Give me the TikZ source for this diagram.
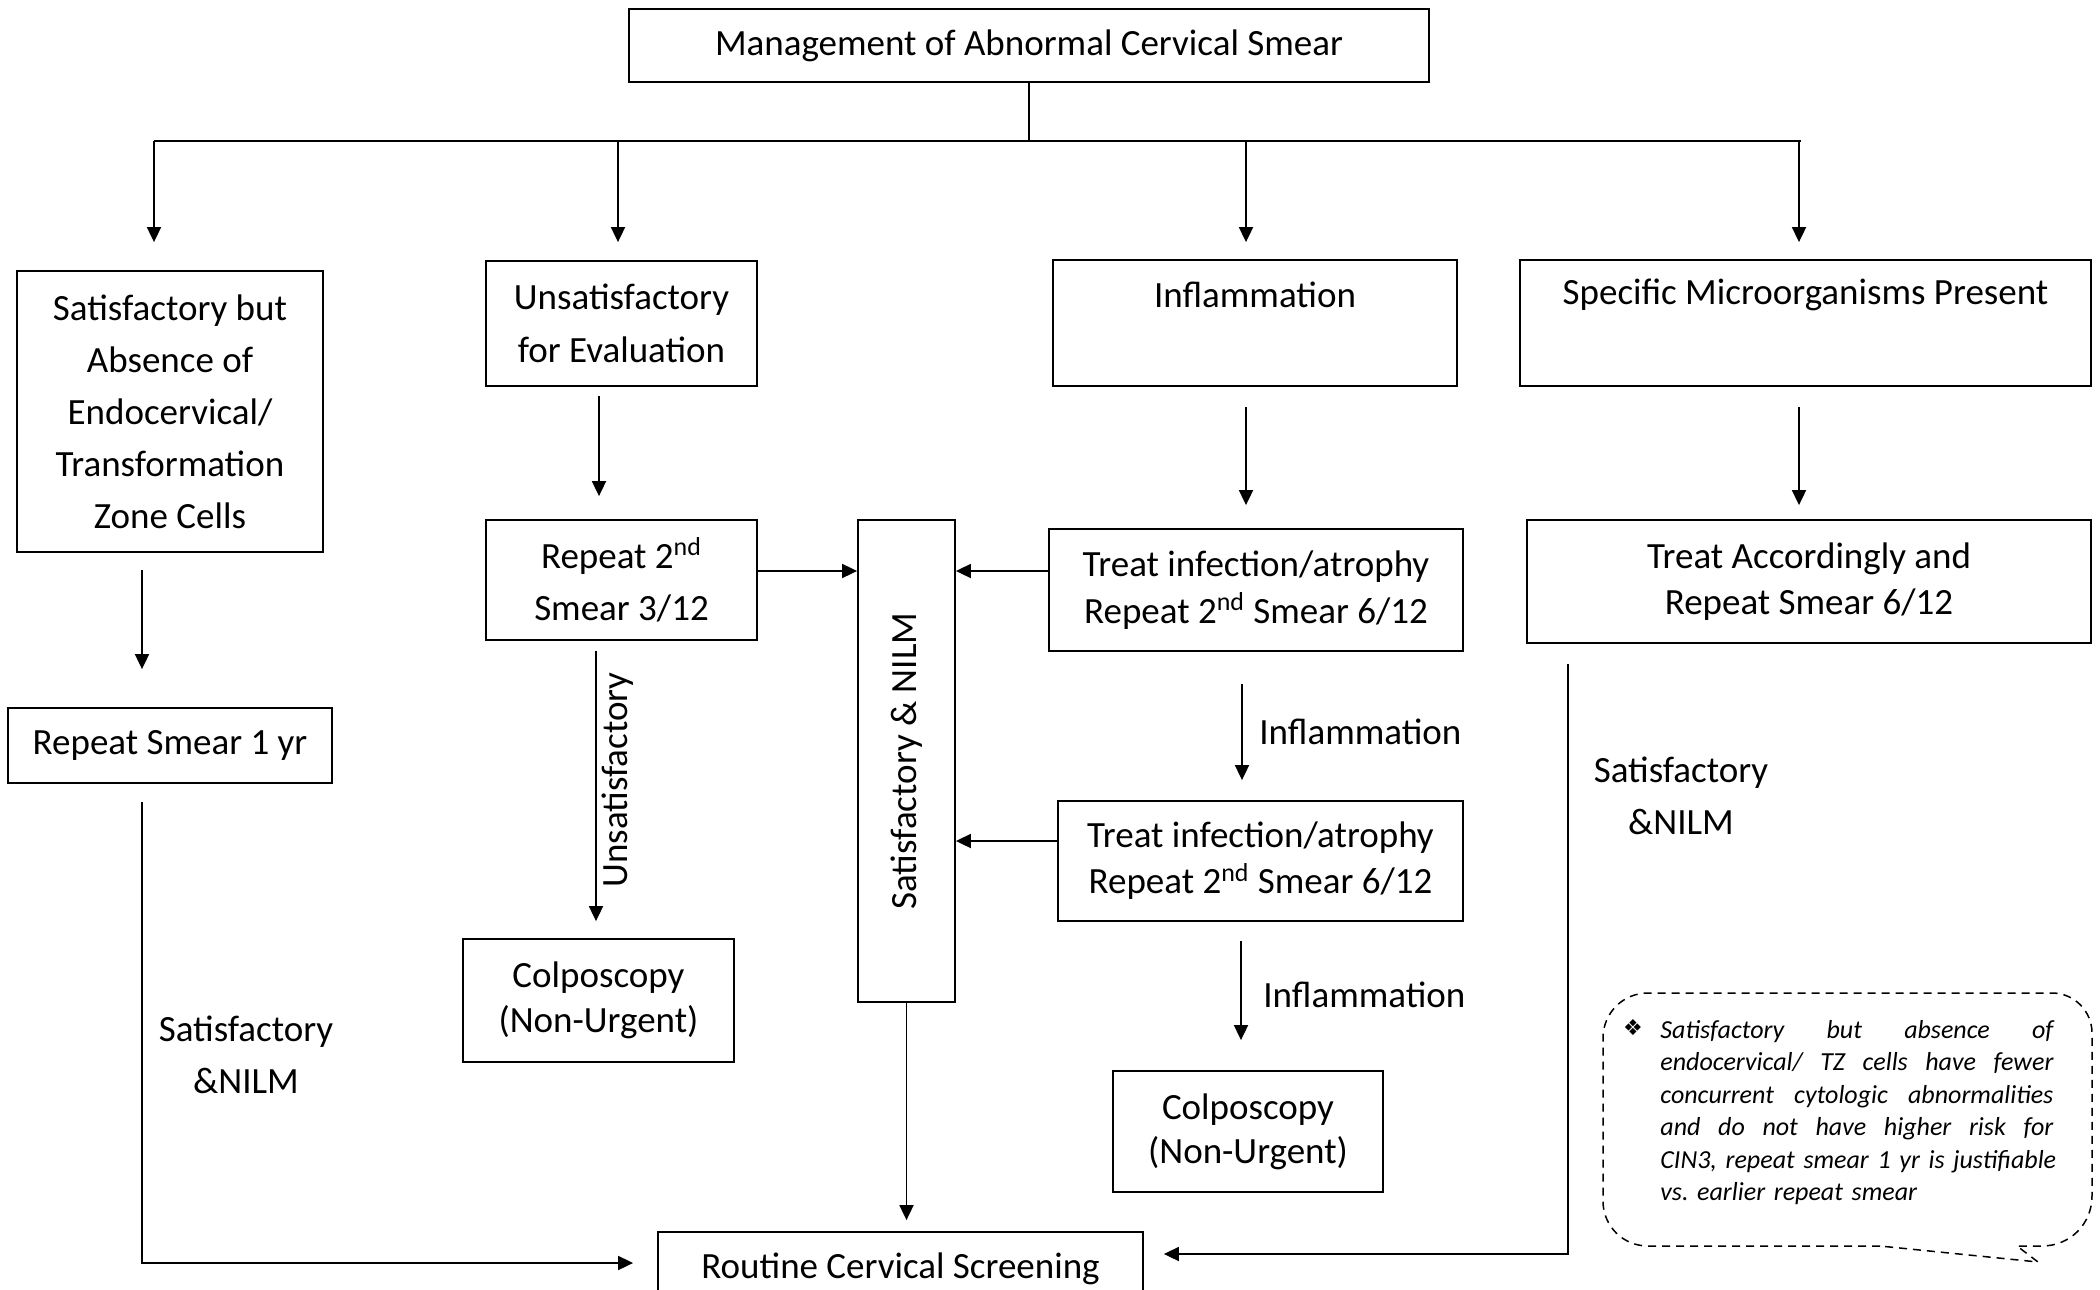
\documentclass[tikz,border=0pt]{standalone}
\usepackage{fontspec}
\setmainfont{Carlito}
\newfontfamily\symfnt{DejaVu Sans}
\usepackage{graphicx}
\usetikzlibrary{arrows.meta}
\tikzset{
  box/.style={draw, line width=0.9pt, inner sep=0pt, align=center},
  ln/.style={line width=0.9pt},
  arr/.style={line width=0.9pt, -{Triangle[length=7.5pt,width=7pt]}},
  lbl/.style={inner sep=0pt, align=center, font=\fontsize{18.5pt}{26pt}\selectfont},
}
\newcommand{\fs}[1]{\fontsize{18.5pt}{#1}\selectfont}
\newcommand{\jl}[1]{\hbox to 196.5pt{#1}}
\newcommand{\gp}{\hfill\ \hfill}
\frenchspacing
\begin{document}
\begin{tikzpicture}[x=0.5pt, y=-0.5pt]
\useasboundingbox (0,0) rectangle (2100,1290);
\fill[white] (0,0) rectangle (2100,1290);
\clip (0,0) rectangle (2100,1290);

% boxes
\node[box, minimum width=400pt, minimum height=36.5pt, font=\fs{26pt}] (T) at (1029,45.5) {Management of Abnormal Cervical Smear};
\node[box, minimum width=153pt, minimum height=140.5pt, font=\fs{26pt}] (A) at (170,411.5) {Satisfactory but\\Absence of\\Endocervical/\\Transformation\\Zone Cells};
\node[box, minimum width=135.5pt, minimum height=62.5pt, font=\fs{26.5pt}] (B) at (621.5,323.5) {Unsatisfactory\\for Evaluation};
\node[box, minimum width=202pt, minimum height=63pt] (C) at (1255,323) {};
\node[lbl] (Ct) at (1255,295) {Inflammation};
\node[box, minimum width=285.5pt, minimum height=63pt] (D) at (1805.5,323) {};
\node[lbl] (Dt) at (1805.5,295) {Specific Microorganisms Present};
\node[box, minimum width=162pt, minimum height=37.5pt, font=\fs{26pt}] (E) at (170,745.5) {Repeat Smear 1 yr};
\node[box, minimum width=135.5pt, minimum height=60pt, font=\fs{26pt}] (F) at (621.5,580) {Repeat 2\textsuperscript{nd}\\Smear 3/12};
\node[box, minimum width=48.5pt, minimum height=241pt, font=\fs{26pt}] (G) at (906.5,761) {\rotatebox{90}{Satisfactory \& NILM}};
\node[box, minimum width=207pt, minimum height=61pt, font=\fs{23.5pt}] (H) at (1256,590) {Treat infection/atrophy\\Repeat 2\textsuperscript{nd} Smear 6/12};
\node[box, minimum width=282pt, minimum height=61.5pt, font=\fs{23pt}] (L) at (1809,581.5) {Treat Accordingly and\\Repeat Smear 6/12};
\node[box, minimum width=135.5pt, minimum height=61.5pt, font=\fs{22.75pt}] (J) at (598.5,1000.5) {Colposcopy\\(Non-Urgent)};
\node[box, minimum width=202.5pt, minimum height=60pt, font=\fs{23pt}] (I) at (1260.5,861) {Treat infection/atrophy\\Repeat 2\textsuperscript{nd} Smear 6/12};
\node[box, minimum width=135pt, minimum height=60.5pt, font=\fs{22pt}] (K) at (1248,1131.5) {Colposcopy\\(Non-Urgent)};
\node[box, minimum width=242.5pt, minimum height=36.5pt, font=\fs{26pt}] (M) at (900.5,1268.5) {Routine Cervical Screening};

% top distribution
\coordinate (d1) at (154,141);
\coordinate (d2) at (618,141);
\coordinate (d3) at (1246,141);
\coordinate (d4) at (1799,141);
\coordinate (barR) at (1801,141);
\draw[ln] (T.south) -- (T.south |- d1);
\draw[ln] (d1) -- (barR);
\draw[arr] (d1) -- ([xshift=-8pt, yshift=14pt]A.north);
\draw[arr] (d2) -- ([xshift=-1.75pt, yshift=9pt]B.north);
\draw[arr] (d3) -- ([xshift=-4.5pt, yshift=8.5pt]C.north);
\draw[arr] (d4) -- ([xshift=-3.25pt, yshift=8.5pt]D.north);

% vertical arrows
\draw[arr] ([xshift=-14pt,yshift=-8.5pt]A.south) -- ([xshift=-14pt,yshift=19pt]E.north);
\draw[arr] ([xshift=-11.25pt,yshift=-4.5pt]B.south) -- ([xshift=-11.25pt,yshift=11.5pt]F.north);
\draw[arr] ([xshift=-4.5pt,yshift=-10pt]C.south) -- ([xshift=-5pt,yshift=11.5pt]H.north);
\draw[arr] ([xshift=-3.25pt,yshift=-10pt]D.south) -- ([xshift=-5pt,yshift=7pt]L.north);
\draw[arr] ([xshift=-12.75pt,yshift=-5pt]F.south) -- ([xshift=-1.25pt,yshift=8.5pt]J.north);
\draw[arr] ([xshift=-7pt,yshift=-16pt]H.south) -- ([xshift=-9.25pt,yshift=10pt]I.north);
\draw[arr] ([xshift=-9.75pt,yshift=-9.5pt]I.south) -- ([xshift=-3.5pt,yshift=15pt]K.north);
\draw[arr] (G.south) -- ([xshift=3pt,yshift=5.5pt]M.north);

% horizontal arrows into G
\draw[arr] ([yshift=4.5pt]F.east) -- ([yshift=95pt]G.west);
\draw[arr] ([yshift=9.5pt]H.west) -- ([yshift=95pt]G.east);
\draw[arr] ([yshift=10pt]I.west) -- ([yshift=-40pt]G.east);

% long paths to routine screening
\draw[arr] ([xshift=-14pt,yshift=-9pt]E.south) |- ([xshift=-12pt,yshift=2.75pt]M.west);
\draw[arr] ([xshift=-120.5pt,yshift=-10pt]L.south) |- ([xshift=10pt,yshift=7.25pt]M.east);

% labels
\node[lbl, anchor=west] (infl1) at (1259,732) {Inflammation};
\node[lbl, anchor=west] (infl2) at (1263,995) {Inflammation};
\node[lbl, rotate=90] (unsat) at (618,780) {Unsatisfactory};
\node[lbl] (satL) at (246,1055) {Satisfactory\\\&NILM};
\node[lbl] (satR) at (1681,796) {Satisfactory\\\&NILM};

% callout
\draw[line width=0.75pt, dash pattern=on 4pt off 3pt]
  (1880,1246) -- (1648,1246) .. controls (1623,1246) and (1603,1226) .. (1603,1201)
  -- (1603,1038) .. controls (1603,1013) and (1623,993) .. (1648,993)
  -- (2052,993) .. controls (2074,993) and (2092,1011) .. (2092,1033)
  -- (2092,1196) .. controls (2092,1224) and (2070,1246) .. (2042,1246)
  -- (2017,1246) -- (2038,1262) -- cycle;
\node[inner sep=0pt, font=\symfnt\fontsize{11pt}{11pt}\selectfont] (bul) at (1633,1028) {❖};
\node[anchor=north west, inner sep=0pt, text width=196.5pt, font=\itshape\fontsize{13pt}{16.25pt}\selectfont] (note) at (1660,1020) {%
\jl{Satisfactory\gp but\gp absence\gp of}
\jl{endocervical/\gp TZ\gp cells\gp have\gp fewer}
\jl{concurrent\gp cytologic\gp abnormalities}
\jl{and\gp do\gp not\gp have\gp higher\gp risk\gp for}
\jl{CIN3,\gp repeat\gp smear\gp 1\gp yr\gp is\gp justifiable}
\hbox{vs. earlier repeat smear}};
\end{tikzpicture}
\end{document}
